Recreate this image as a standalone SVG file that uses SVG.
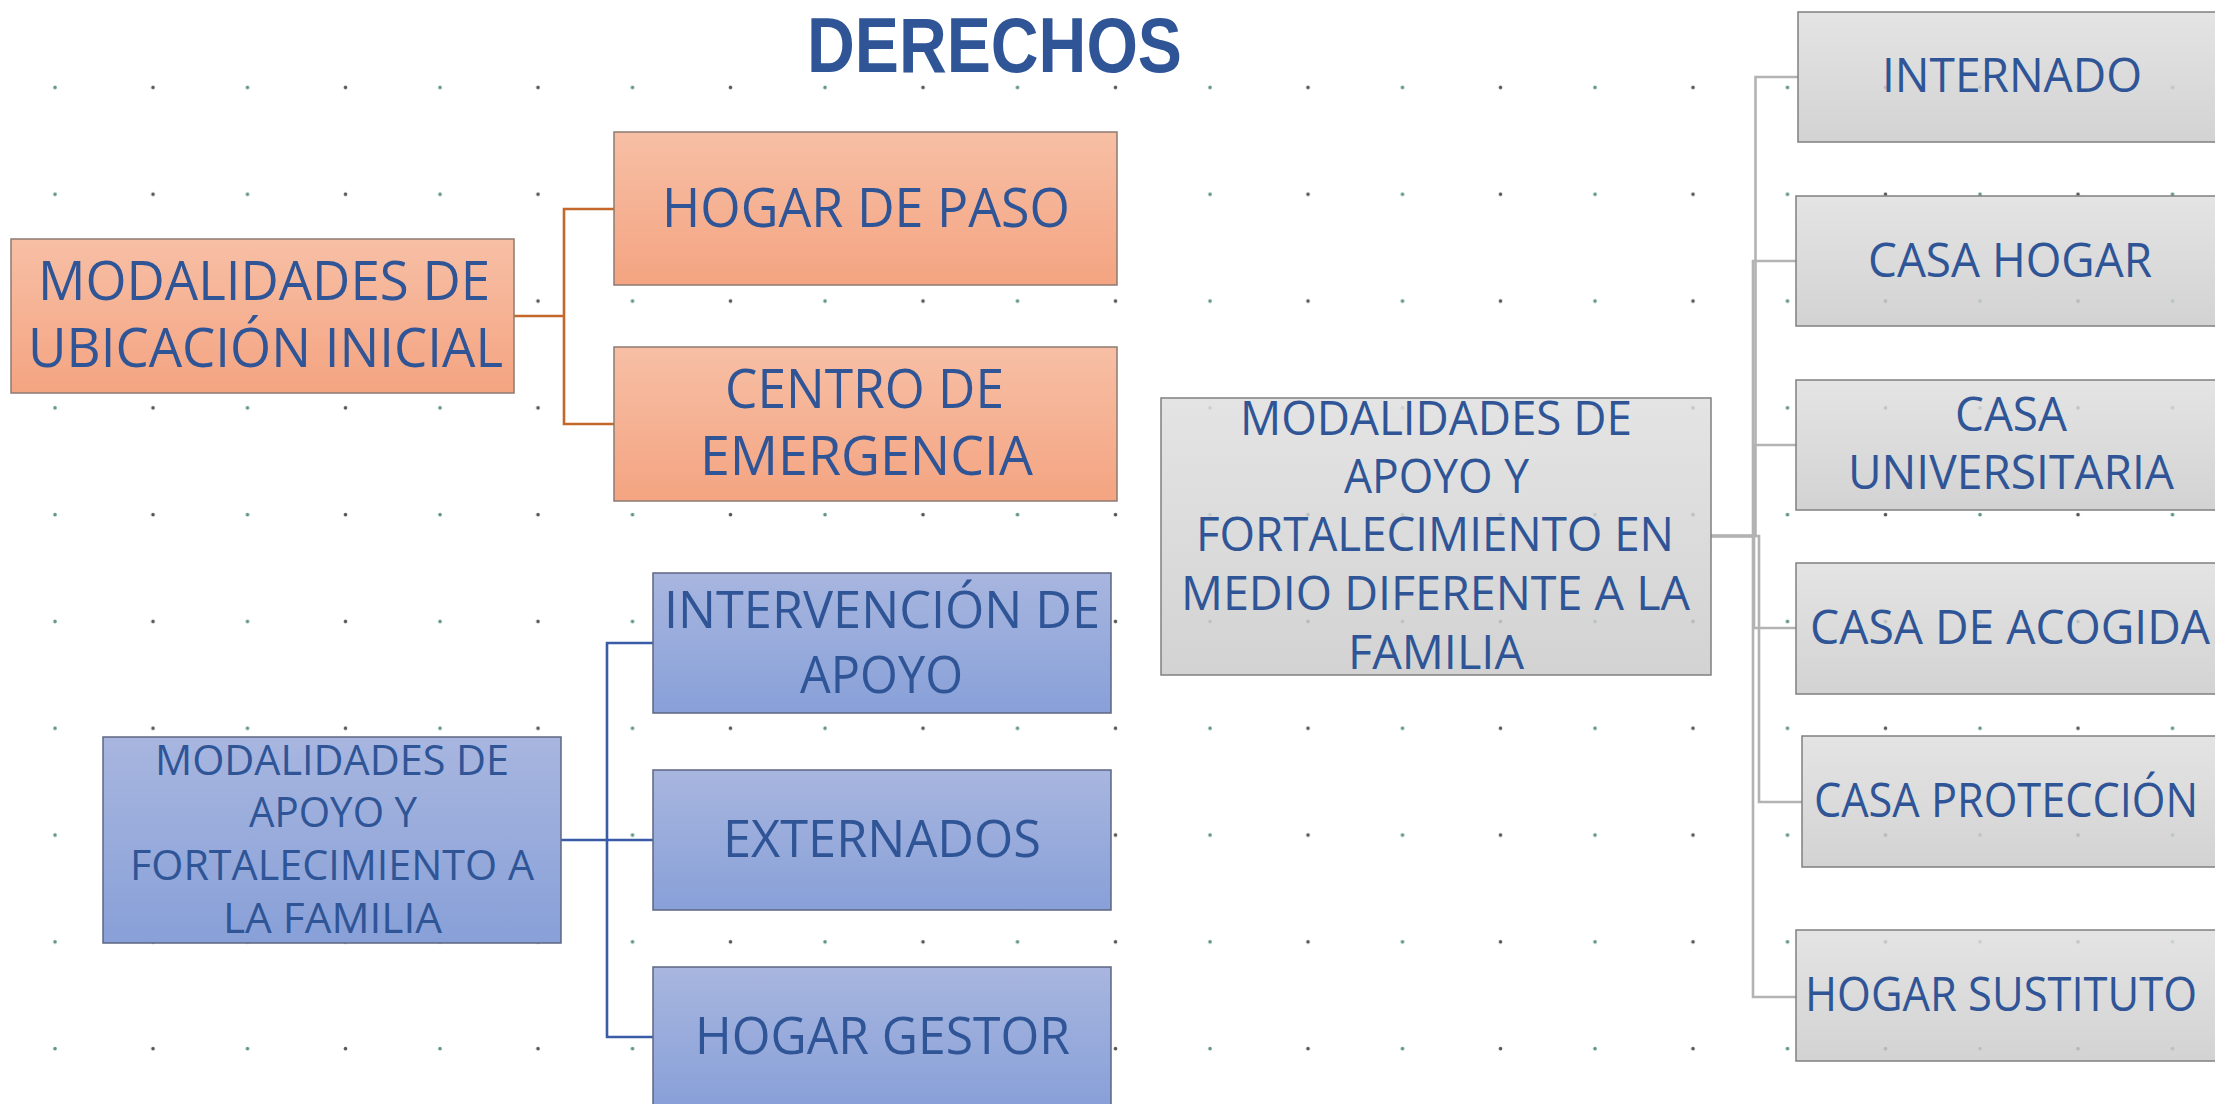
<svg xmlns="http://www.w3.org/2000/svg" width="2215" height="1104" viewBox="0 0 2215 1104">
<defs>
<linearGradient id="gOrange" x1="0" y1="0" x2="0" y2="1"><stop offset="0" stop-color="#f7bfa5"/><stop offset="1" stop-color="#f4a481"/></linearGradient>
<linearGradient id="gBlue" x1="0" y1="0" x2="0" y2="1"><stop offset="0" stop-color="#a8b6df"/><stop offset="1" stop-color="#88a0d8"/></linearGradient>
<linearGradient id="gGray" x1="0" y1="0" x2="0" y2="1"><stop offset="0" stop-color="#dedede"/><stop offset="1" stop-color="#c9c9c9"/></linearGradient>
<pattern id="dots" patternUnits="userSpaceOnUse" x="0" y="0" width="192.5" height="106.8">
<circle cx="55" cy="87.5" r="1.8" fill="#5e9488"/>
<circle cx="153" cy="87.5" r="1.8" fill="#555"/>
</pattern>
</defs>
<style>
.t{font-family:"Open Sans","Noto Sans","Liberation Sans",sans-serif;fill:#2f5597;text-anchor:middle}
.big{font-size:54px}
.mid{font-size:52px}
.gr{font-size:47px}
.sm{font-size:42.5px}
.title{font-family:"Liberation Sans",Arial,sans-serif;font-size:77px;font-weight:bold}
.or{fill:url(#gOrange);stroke:#8d7b72;stroke-width:1.5}
.bl{fill:url(#gBlue);stroke:#5d6683;stroke-width:1.5}
.gy{fill:url(#gGray);fill-opacity:0.82;stroke:#808080;stroke-width:1.5}
.c{fill:none;stroke-width:2.6}
.co{stroke:#c4672b}
.cb{stroke:#3a5ca6}
.cg{stroke:#b3b3b3}
</style>
<rect width="2215" height="1104" fill="#ffffff"/>
<rect width="2215" height="1104" fill="url(#dots)"/>
<text class="t title" x="994.5" y="72" textLength="375" lengthAdjust="spacingAndGlyphs">DERECHOS</text>
<g id="connectors">
<path class="c co" d="M514,316 H564 V209 H614 M564,316 V424 H614"/>
<path class="c cb" d="M561,840 H607 V643 H653 M607,840 V1037 H653 M607,840 H653"/>
<path class="c cg" d="M1711,536 H1755.5 V77 H1798"/>
<path class="c cg" d="M1711,536 H1753 V261 H1796"/>
<path class="c cg" d="M1711,536 H1754 V445 H1796"/>
<path class="c cg" d="M1711,536 H1754 V628 H1796"/>
<path class="c cg" d="M1711,536 H1759 V802 H1802"/>
<path class="c cg" d="M1711,536 H1753 V997 H1796"/>
</g>
<g id="n-ubicacion">
<rect class="or" x="11" y="239" width="503" height="154"/>
<text class="t big" x="264" y="300" textLength="452" lengthAdjust="spacingAndGlyphs">MODALIDADES DE</text>
<text class="t big" x="265.5" y="367" textLength="475" lengthAdjust="spacingAndGlyphs">UBICACIÓN INICIAL</text>
</g>
<g id="n-hogar-paso">
<rect class="or" x="614" y="132" width="503" height="153"/>
<text class="t big" x="866" y="227" textLength="408" lengthAdjust="spacingAndGlyphs">HOGAR DE PASO</text>
</g>
<g id="n-centro">
<rect class="or" x="614" y="347" width="503" height="154"/>
<text class="t big" x="864.5" y="408" textLength="279" lengthAdjust="spacingAndGlyphs">CENTRO DE</text>
<text class="t big" x="866.5" y="475" textLength="333" lengthAdjust="spacingAndGlyphs">EMERGENCIA</text>
</g>
<g id="n-apoyo-familia">
<rect class="bl" x="103" y="737" width="458" height="206"/>
<text class="t sm" x="332" y="775" textLength="354" lengthAdjust="spacingAndGlyphs">MODALIDADES DE</text>
<text class="t sm" x="333" y="827" textLength="168" lengthAdjust="spacingAndGlyphs">APOYO Y</text>
<text class="t sm" x="332" y="880" textLength="404" lengthAdjust="spacingAndGlyphs">FORTALECIMIENTO A</text>
<text class="t sm" x="332.5" y="933" textLength="219" lengthAdjust="spacingAndGlyphs">LA FAMILIA</text>
</g>
<g id="n-intervencion">
<rect class="bl" x="653" y="573" width="458" height="140"/>
<text class="t mid" x="882" y="628" textLength="436" lengthAdjust="spacingAndGlyphs">INTERVENCIÓN DE</text>
<text class="t mid" x="881.5" y="693" textLength="163" lengthAdjust="spacingAndGlyphs">APOYO</text>
</g>
<g id="n-externados">
<rect class="bl" x="653" y="770" width="458" height="140"/>
<text class="t mid" x="882" y="857" textLength="318" lengthAdjust="spacingAndGlyphs">EXTERNADOS</text>
</g>
<g id="n-hogar-gestor">
<rect class="bl" x="653" y="967" width="458" height="140"/>
<text class="t mid" x="882.5" y="1054" textLength="375" lengthAdjust="spacingAndGlyphs">HOGAR GESTOR</text>
</g>
<g id="n-medio-diferente">
<rect class="gy" x="1161" y="398" width="550" height="277"/>
<text class="t gr" x="1436" y="435" textLength="392" lengthAdjust="spacingAndGlyphs">MODALIDADES DE</text>
<text class="t gr" x="1436.5" y="493" textLength="185" lengthAdjust="spacingAndGlyphs">APOYO Y</text>
<text class="t gr" x="1435" y="551" textLength="478" lengthAdjust="spacingAndGlyphs">FORTALECIMIENTO EN</text>
<text class="t gr" x="1435.5" y="610" textLength="509" lengthAdjust="spacingAndGlyphs">MEDIO DIFERENTE A LA</text>
<text class="t gr" x="1436" y="669" textLength="176" lengthAdjust="spacingAndGlyphs">FAMILIA</text>
</g>
<g id="n-internado">
<rect class="gy" x="1798" y="12" width="430" height="130"/>
<text class="t gr" x="2012" y="92" textLength="260" lengthAdjust="spacingAndGlyphs">INTERNADO</text>
</g>
<g id="n-casa-hogar">
<rect class="gy" x="1796" y="196" width="432" height="130"/>
<text class="t gr" x="2010" y="277" textLength="284" lengthAdjust="spacingAndGlyphs">CASA HOGAR</text>
</g>
<g id="n-casa-universitaria">
<rect class="gy" x="1796" y="380" width="432" height="130"/>
<text class="t gr" x="2011" y="431" textLength="112" lengthAdjust="spacingAndGlyphs">CASA</text>
<text class="t gr" x="2011" y="489" textLength="326" lengthAdjust="spacingAndGlyphs">UNIVERSITARIA</text>
</g>
<g id="n-casa-acogida">
<rect class="gy" x="1796" y="563" width="432" height="131"/>
<text class="t gr" x="2010" y="644" textLength="400" lengthAdjust="spacingAndGlyphs">CASA DE ACOGIDA</text>
</g>
<g id="n-casa-proteccion">
<rect class="gy" x="1802" y="736" width="426" height="131"/>
<text class="t gr" x="2006" y="817" textLength="384" lengthAdjust="spacingAndGlyphs">CASA PROTECCIÓN</text>
</g>
<g id="n-hogar-sustituto">
<rect class="gy" x="1796" y="930" width="432" height="131"/>
<text class="t gr" x="2001" y="1011" textLength="392" lengthAdjust="spacingAndGlyphs">HOGAR SUSTITUTO</text>
</g>
</svg>
